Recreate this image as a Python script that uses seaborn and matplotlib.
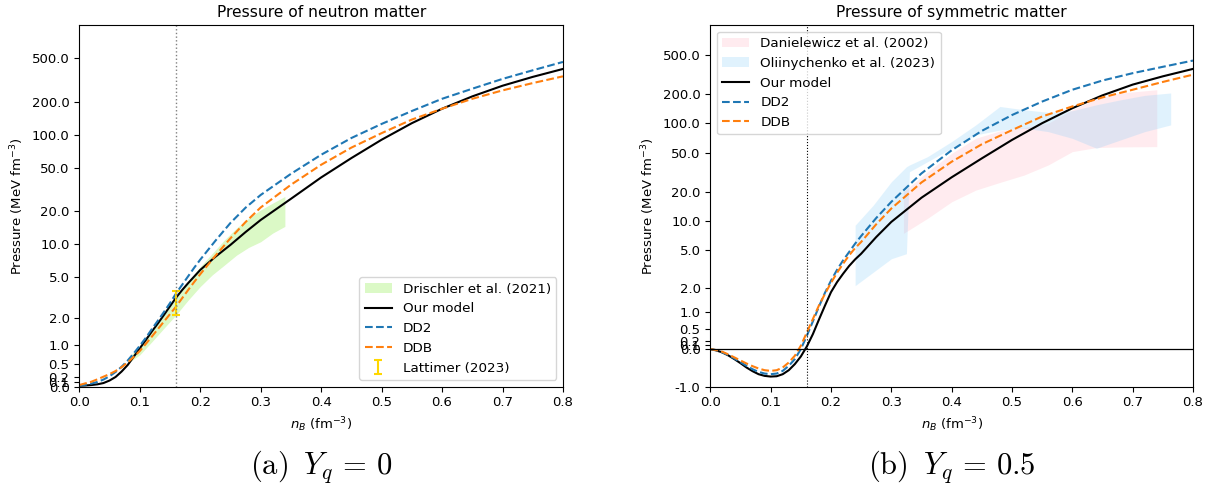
import numpy as np
import pandas as pd
import matplotlib
matplotlib.use("Agg")
import matplotlib.pyplot as plt
import seaborn as sns
from matplotlib.ticker import FixedLocator, FormatStrFormatter, NullLocator

# ---------------- data: neutron matter (Y_q = 0) ----------------
nb_left = [0.00, 0.01, 0.02, 0.03, 0.04, 0.05, 0.06, 0.07, 0.08, 0.09, 0.10,
           0.11, 0.12, 0.13, 0.14, 0.15, 0.16, 0.17, 0.18, 0.19, 0.20,
           0.225, 0.25, 0.275, 0.30, 0.35, 0.40, 0.45, 0.50, 0.55, 0.60,
           0.65, 0.70, 0.75, 0.80]
model_left = [0.02, 0.025, 0.035, 0.05, 0.077, 0.130, 0.206, 0.325, 0.472, 0.673, 0.896,
              1.147, 1.44, 1.76, 2.15, 2.62, 3.17, 3.74, 4.35, 5.01, 5.77,
              7.63, 9.82, 12.87, 16.6, 25.9, 40.6, 61, 89.7, 127, 172,
              223, 279, 336, 397]
dd2_left = [0.02, 0.04, 0.065, 0.100, 0.151, 0.222, 0.315, 0.432, 0.578, 0.759, 0.971,
            1.218, 1.53, 1.88, 2.30, 2.81, 3.48, 4.19, 5.04, 6.05, 7.18,
            10.7, 15.6, 21.5, 28.1, 43.8, 65.4, 93, 125, 164, 212,
            262, 322, 386, 460]
ddb_left = [0.035, 0.070, 0.105, 0.156, 0.212, 0.268, 0.336, 0.422, 0.532, 0.667, 0.822,
            1.027, 1.26, 1.53, 1.84, 2.19, 2.60, 3.13, 3.75, 4.46, 5.27,
            7.79, 11.3, 15.9, 21.6, 34.8, 53, 76, 103, 137, 172,
            212, 253, 295, 340]

drischler_nb = [0.08, 0.10, 0.12, 0.14, 0.16, 0.18, 0.20, 0.22, 0.24, 0.26, 0.28, 0.30, 0.32, 0.34]
drischler_lo = [0.51, 0.72, 1.09, 1.56, 2.15, 3.0, 4.04, 5.2, 6.4, 7.9, 9.3, 10.5, 12.6, 14.5]
drischler_hi = [0.63, 0.97, 1.5, 2.15, 3.12, 4.5, 6.2, 8.2, 10.9, 14.0, 17.2, 20.5, 23.7, 27.2]

lattimer_nb = [0.16]
lattimer_lo = [2.16]
lattimer_hi = [3.63]

# ---------------- data: symmetric matter (Y_q = 0.5) ----------------
nb_right = [0.00, 0.01, 0.02, 0.03, 0.04, 0.05, 0.06, 0.07, 0.08, 0.09, 0.10,
            0.11, 0.12, 0.13, 0.14, 0.15, 0.16, 0.17, 0.18, 0.19, 0.20,
            0.21, 0.22, 0.23, 0.24, 0.25, 0.275, 0.30, 0.35, 0.40, 0.45,
            0.50, 0.55, 0.60, 0.65, 0.70, 0.75, 0.80]
model_right = [0.0, -0.031, -0.079, -0.150, -0.238, -0.336, -0.445, -0.541, -0.623, -0.670, -0.689,
               -0.680, -0.623, -0.515, -0.360, -0.174, 0.063, 0.360, 0.748, 1.206, 1.77,
               2.30, 2.84, 3.44, 4.04, 4.63, 6.89, 9.85, 17.4, 28.1, 43.8,
               67.5, 100, 142, 192, 247, 300, 357]
dd2_right = [0.0, -0.024, -0.079, -0.142, -0.222, -0.311, -0.402, -0.489, -0.560, -0.605, -0.623,
             -0.605, -0.533, -0.402, -0.238, 0.0, 0.319, 0.698, 1.17, 1.74, 2.39,
             3.13, 3.94, 4.82, 5.89, 7.06, 10.8, 15.8, 30.8, 53, 83.5,
             121, 166, 219, 272, 323, 375, 434]
ddb_right = [0.0, -0.024, -0.063, -0.126, -0.197, -0.270, -0.344, -0.411, -0.471, -0.515, -0.533,
             -0.515, -0.445, -0.319, -0.157, 0.079, 0.402, 0.767, 1.21, 1.69, 2.26,
             2.91, 3.63, 4.45, 5.30, 6.13, 9.32, 13.5, 24.9, 40.5, 61,
             85, 117, 148, 183, 219, 263, 312]

dan_nb = [0.32, 0.36, 0.40, 0.44, 0.48, 0.52, 0.56, 0.60, 0.64, 0.68, 0.74]
dan_lo = [7.5, 10.7, 15.8, 20.8, 24.9, 29.6, 37.5, 51.3, 56.4, 57.3, 57.7]
dan_hi = [20.0, 32.0, 49.3, 70.2, 83.5, 90.3, 100, 137, 177, 203, 219]

oli_nb = [0.24, 0.27, 0.30, 0.325, 0.33, 0.36, 0.40, 0.44, 0.48, 0.52, 0.56, 0.60, 0.64, 0.68, 0.72, 0.763]
oli_lo = [2.1, 2.95, 4.1, 4.63, 32, 40.5, 55.5, 76, 85, 89, 82, 70, 55.5, 67.5, 82, 96]
oli_hi = [9.1, 14.6, 25.3, 36, 37.5, 45.6, 65, 96, 148, 137, 129, 134, 154, 173, 192, 203]

y_ticks = [-1.0, 0.0, 0.1, 0.2, 0.5, 1.0, 2.0, 5.0, 10.0, 20.0, 50.0, 100.0, 200.0, 500.0]
x_ticks = [0.0, 0.1, 0.2, 0.3, 0.4, 0.5, 0.6, 0.7, 0.8]
n_sat = 0.16

# ---------------- figure ----------------
plt.rcParams['font.family'] = ['DejaVu Sans']
plt.rcParams['mathtext.fontset'] = 'dejavusans'
FS = 9.5
LFS = 9.7

fig = plt.figure(figsize=(12.13, 4.88), dpi=100)
axL = fig.add_axes([0.0654, 0.2076, 0.3987, 0.7412])
axR = fig.add_axes([0.5856, 0.2076, 0.3979, 0.7412])

BLUE = '#1f77b4'
ORANGE = '#ff7f0e'

# Left panel
axL.fill_between(drischler_nb, drischler_lo, drischler_hi, color='#dbf9c6', lw=0,
                 label='Drischler et al. (2021)')
dfL = pd.DataFrame({'nb': nb_left, 'model': model_left, 'dd2': dd2_left, 'ddb': ddb_left})
sns.lineplot(data=dfL, x='nb', y='model', ax=axL, color='k', lw=1.5, label='Our model')
sns.lineplot(data=dfL, x='nb', y='dd2', ax=axL, color=BLUE, lw=1.5, ls='--', label='DD2')
sns.lineplot(data=dfL, x='nb', y='ddb', ax=axL, color=ORANGE, lw=1.5, ls='--', label='DDB')
lat_mid = [(a + b) / 2 for a, b in zip(lattimer_lo, lattimer_hi)]
lat_err = [[m - a for m, a in zip(lat_mid, lattimer_lo)], [b - m for m, b in zip(lat_mid, lattimer_hi)]]
axL.errorbar(lattimer_nb, lat_mid, yerr=lat_err, fmt='none', ecolor='gold', capsize=3,
             elinewidth=1.5, capthick=1.5, label='Lattimer (2023)')
axL.axvline(n_sat, color='grey', ls=':', lw=1)
axL.set_ylim(0, 1000)
axL.legend(loc='lower right', fontsize=LFS)
axL.set_title('Pressure of neutron matter', fontsize=11.2)

# Right panel
axR.fill_between(dan_nb, dan_lo, dan_hi, color='pink', alpha=0.3, lw=0,
                 label='Danielewicz et al. (2002)')
axR.fill_between(oli_nb, oli_lo, oli_hi, color='lightskyblue', alpha=0.25, lw=0,
                 label='Oliinychenko et al. (2023)')
dfR = pd.DataFrame({'nb': nb_right, 'model': model_right, 'dd2': dd2_right, 'ddb': ddb_right})
sns.lineplot(data=dfR, x='nb', y='model', ax=axR, color='k', lw=1.5, label='Our model')
sns.lineplot(data=dfR, x='nb', y='dd2', ax=axR, color=BLUE, lw=1.5, ls='--', label='DD2')
sns.lineplot(data=dfR, x='nb', y='ddb', ax=axR, color=ORANGE, lw=1.5, ls='--', label='DDB')
axR.axvline(n_sat, color='k', ls=':', lw=0.8)
axR.axhline(0, color='k', lw=0.9)
axR.set_ylim(-1, 1000)
axR.legend(loc='upper left', fontsize=LFS)
axR.set_title('Pressure of symmetric matter', fontsize=11.2)

for ax in (axL, axR):
    ax.set_yscale('asinh', linear_width=1)
    ax.yaxis.set_major_locator(FixedLocator(y_ticks))
    ax.yaxis.set_major_formatter(FormatStrFormatter('%.1f'))
    ax.yaxis.set_minor_locator(NullLocator())
    ax.set_xlim(0, 0.8)
    ax.set_xticks(x_ticks)
    ax.xaxis.set_major_formatter(FormatStrFormatter('%.1f'))
    ax.tick_params(labelsize=FS)
    ax.set_xlabel(r'$n_B$ (fm$^{-3}$)', fontsize=FS)
    ax.set_ylabel(r'Pressure (MeV fm$^{-3}$)', fontsize=FS)

# captions
cap_kw = dict(ha='center', va='center', fontsize=22, math_fontfamily='cm')
fig.text(0.2648, 0.045, r'$\mathrm{(a)}\;\;Y_q\,=\,0$', **cap_kw)
fig.text(0.7846, 0.045, r'$\mathrm{(b)}\;\;Y_q\,=\,0.5$', **cap_kw)

fig.savefig('out.png', dpi=100)
